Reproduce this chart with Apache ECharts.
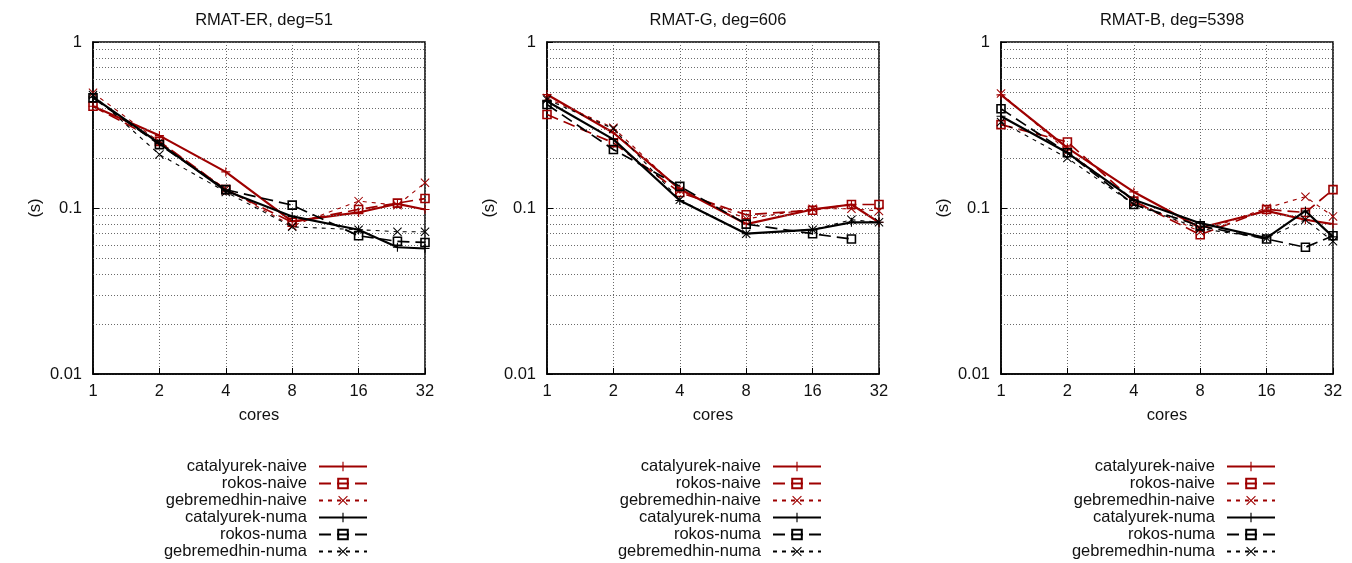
<!DOCTYPE html>
<html>
<head>
<meta charset="utf-8">
<script src="https://cdn.jsdelivr.net/npm/echarts@6/dist/echarts.min.js"></script>
<style>html,body{margin:0;padding:0;background:#fff}#c{width:1352px;height:563px}</style>
</head>
<body>
<div id="c"></div>
<script>
// ---- data ----
const cores = [1, 2, 4, 8, 16, 24, 32];
const xTicks = [1, 2, 4, 8, 16, 32];
const yTicks = [0.01, 0.1, 1];
const panelTitles = ['RMAT-ER, deg=51', 'RMAT-G, deg=606', 'RMAT-B, deg=5398'];
const seriesNames = ['catalyurek-naive', 'rokos-naive', 'gebremedhin-naive', 'catalyurek-numa', 'rokos-numa', 'gebremedhin-numa'];

// RMAT-ER
const erCatalyurekNaive   = [0.41, 0.273, 0.165, 0.083, 0.094, 0.106, 0.098];
const erRokosNaive        = [0.41, 0.252, 0.129, 0.082, 0.098, 0.107, 0.114];
const erGebremedhinNaive  = [0.494, 0.25, 0.13, 0.078, 0.11, 0.104, 0.142];
const erCatalyurekNuma    = [0.465, 0.245, 0.127, 0.089, 0.074, 0.058, 0.057];
const erRokosNuma         = [0.461, 0.241, 0.129, 0.104, 0.068, 0.063, 0.062];
const erGebremedhinNuma   = [0.48, 0.21, 0.125, 0.077, 0.074, 0.072, 0.072];
// RMAT-G
const gCatalyurekNaive    = [0.483, 0.284, 0.13, 0.080, 0.098, 0.105, 0.082];
const gRokosNaive         = [0.366, 0.247, 0.124, 0.091, 0.097, 0.105, 0.105];
const gGebremedhinNaive   = [0.46, 0.304, 0.128, 0.086, 0.099, 0.099, 0.096];
const gCatalyurekNuma     = [0.44, 0.259, 0.111, 0.070, 0.074, 0.082, 0.082];
const gRokosNuma          = [0.42, 0.225, 0.135, 0.080, 0.070, 0.065, null];
const gGebremedhinNuma    = [0.45, 0.30, 0.112, 0.070, 0.074, 0.085, 0.082];
// RMAT-B
const bCatalyurekNaive    = [0.48, 0.23, 0.125, 0.076, 0.096, 0.085, 0.080];
const bRokosNaive         = [0.318, 0.25, 0.11, 0.069, 0.098, 0.094, 0.129];
const bGebremedhinNaive   = [0.49, 0.22, 0.11, 0.072, 0.10, 0.117, 0.089];
const bCatalyurekNuma     = [0.357, 0.215, 0.112, 0.081, 0.066, 0.096, 0.067];
const bRokosNuma          = [0.396, 0.215, 0.105, 0.078, 0.065, 0.058, 0.068];
const bGebremedhinNuma    = [0.33, 0.20, 0.105, 0.075, 0.066, 0.085, 0.063];

const minorGrid = [0.02,0.03,0.04,0.05,0.06,0.07,0.08,0.09,0.2,0.3,0.4,0.5,0.6,0.7,0.8,0.9];

const panels = [
  [erCatalyurekNaive, erRokosNaive, erGebremedhinNaive, erCatalyurekNuma, erRokosNuma, erGebremedhinNuma],
  [gCatalyurekNaive, gRokosNaive, gGebremedhinNaive, gCatalyurekNuma, gRokosNuma, gGebremedhinNuma],
  [bCatalyurekNaive, bRokosNaive, bGebremedhinNaive, bCatalyurekNuma, bRokosNuma, bGebremedhinNuma]
];

// ---- styles ----
const FONT = 'Liberation Sans, Arial, Helvetica, sans-serif';
const FS = 16.5;
const RED = '#9e0000', BLK = '#000000';
const PLUS = 'path://M0,4.4 H10 V5.6 H0 Z M4.4,0 H5.6 V10 H4.4 Z';
const CROSS = 'path://M0,0.8 L0.8,0 L10,9.2 L9.2,10 Z M9.2,0 L10,0.8 L0.8,10 L0,9.2 Z';
const styleFor = [
  {c: RED, kind: 'cat'}, {c: RED, kind: 'rok'}, {c: RED, kind: 'geb'},
  {c: BLK, kind: 'cat'}, {c: BLK, kind: 'rok'}, {c: BLK, kind: 'geb'}
];
function seriesStyle(s) {
  if (s.kind === 'cat') return {
    symbol: PLUS, symbolSize: 9, lineStyle: {color: s.c, width: 2.2, type: 'solid'},
    itemStyle: {color: s.c, borderWidth: 0}
  };
  if (s.kind === 'rok') return {
    symbol: 'rect', symbolSize: 8, lineStyle: {color: s.c, width: 1.7, type: [12, 6]},
    itemStyle: {color: 'rgba(255,255,255,0)', borderColor: s.c, borderWidth: 1.6}
  };
  return {
    symbol: CROSS, symbolSize: 9, lineStyle: {color: s.c, width: 1.1, type: [4, 5]},
    itemStyle: {color: s.c, borderWidth: 0}
  };
}

const gridLefts = [93, 547, 1001];
const grids = [], xAxes = [], yAxes = [], series = [], titles = [], legends = [];
const dotted = {color: '#6a6a6a', width: 1, type: [1, 2]};

gridLefts.forEach((gl, i) => {
  grids.push({left: gl, top: 42, width: 332, height: 332, show: true, borderColor: '#000', borderWidth: 1.5, backgroundColor: 'transparent'});
  titles.push({text: panelTitles[i], left: gl + 166, top: 7, textAlign: 'center',
    textStyle: {fontFamily: FONT, fontSize: FS, fontWeight: 'normal', color: '#111'}});
  xAxes.push({
    type: 'log', logBase: 2, min: 1, max: 32, splitNumber: 5, gridIndex: i,
    name: 'cores', nameLocation: 'middle', nameGap: 33,
    nameTextStyle: {fontFamily: FONT, fontSize: FS, color: '#111'},
    axisLine: {show: true, lineStyle: {color: '#000', width: 1.5}},
    axisTick: {show: true, inside: true, length: 6, lineStyle: {color: '#000'}},
    axisLabel: {fontFamily: FONT, fontSize: FS, color: '#111', margin: 9,
      formatter: v => String(Math.round(v))},
    splitLine: {show: true, lineStyle: dotted}
  });
  yAxes.push({
    type: 'log', logBase: 10, min: 0.01, max: 1, gridIndex: i,
    name: '(s)', nameLocation: 'middle', nameGap: 49, nameRotate: 90,
    nameTextStyle: {fontFamily: FONT, fontSize: FS, color: '#111'},
    axisLine: {show: true, lineStyle: {color: '#000', width: 1.5}},
    axisTick: {show: true, inside: true, length: 6, lineStyle: {color: '#000'}},
    axisLabel: {fontFamily: FONT, fontSize: FS, color: '#111', margin: 11,
      formatter: v => String(+(+v).toPrecision(1))},
    splitLine: {show: true, lineStyle: dotted}
  });
  panels[i].forEach((vals, k) => {
    const st = seriesStyle(styleFor[k]);
    const s = Object.assign({
      type: 'line', name: seriesNames[k], xAxisIndex: i, yAxisIndex: i,
      data: cores.map((c, j) => vals[j] == null ? null : [c, vals[j]]).filter(d => d),
      showAllSymbol: true, animation: false, silent: true,
      emphasis: {disabled: true}, z: 3 + k
    }, st);
    if (k === 0) {
      s.markLine = {
        silent: true, symbol: 'none', animation: false,
        label: {show: false}, lineStyle: dotted,
        data: minorGrid.map(v => ({yAxis: v}))
      };
    }
    series.push(s);
  });
  legends.push({
    data: seriesNames, orient: 'vertical', align: 'right',
    right: 984 - 454 * i, top: 458, padding: 0,
    itemWidth: 48, itemHeight: 12, itemGap: 0, selectedMode: false,
    textStyle: {fontFamily: FONT, fontSize: FS, color: '#111', lineHeight: 17, padding: [0, 7, 0, 0]}
  });
});

const chart = echarts.init(document.getElementById('c'), null, {renderer: 'canvas'});
chart.setOption({
  backgroundColor: '#fff', animation: false,
  title: titles, grid: grids, xAxis: xAxes, yAxis: yAxes, legend: legends, series: series
});
</script>
</body>
</html>
